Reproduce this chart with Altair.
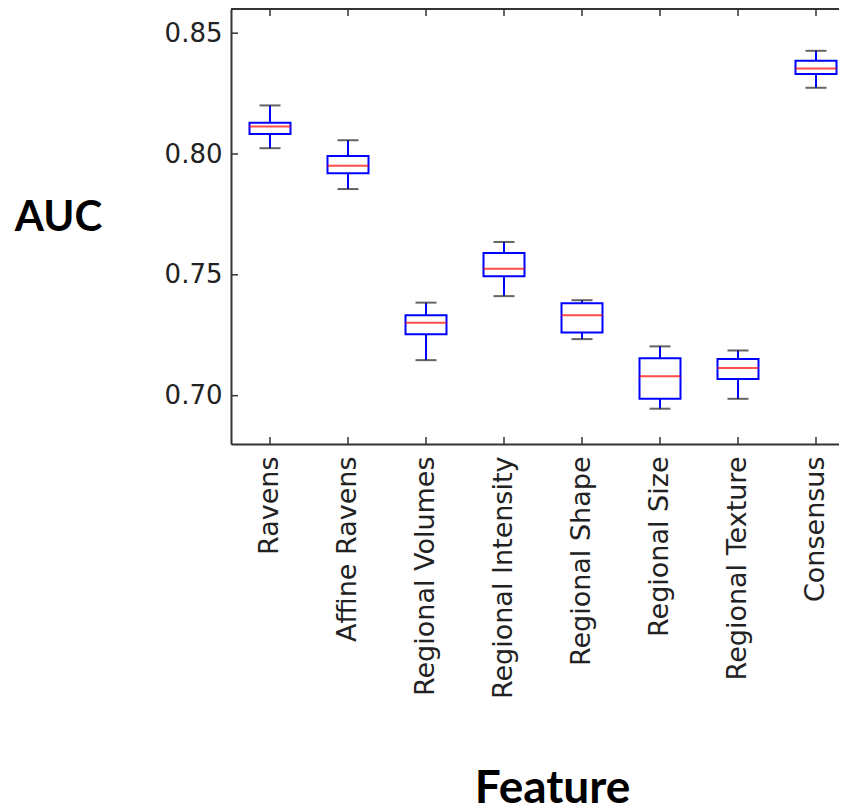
import altair as alt
import pandas as pd

features = ["Ravens", "Affine Ravens", "Regional Volumes", "Regional Intensity",
            "Regional Shape", "Regional Size", "Regional Texture", "Consensus"]
lower = [0.8024, 0.7855, 0.7147, 0.7412, 0.7234, 0.6946, 0.6987, 0.8274]
q1 = [0.8083, 0.7920, 0.7254, 0.7494, 0.7261, 0.6987, 0.7069, 0.8331]
median = [0.8114, 0.7951, 0.7302, 0.7525, 0.7333, 0.7080, 0.7114, 0.8354]
q3 = [0.8129, 0.7992, 0.7333, 0.7590, 0.7382, 0.7155, 0.7152, 0.8386]
upper = [0.8201, 0.8057, 0.7385, 0.7636, 0.7395, 0.7204, 0.7187, 0.8427]
y_ticks = [0.70, 0.75, 0.80, 0.85]

df = pd.DataFrame(dict(feature=features, lower=lower, q1=q1, median=median, q3=q3, upper=upper))
tick_df = pd.DataFrame(dict(v=y_ticks))

W, H = 608, 435
FULL_W = 624  # the original axes run past the right edge of the picture
BLUE = "#0000ff"
RED = "#ff0000"
SPINE = "#333333"

xscale = alt.Scale(domain=features, range=[0, FULL_W], paddingInner=0, paddingOuter=0)
yscale = alt.Scale(domain=[0.68, 0.86], nice=False, zero=False)

x_axis = alt.Axis(
    title="Feature", labelAngle=270, labelPadding=12, ticks=False, labelLimit=0,
    domain=True, domainColor=SPINE, domainWidth=2,
    labelFont="DejaVu Sans", labelFontSize=27, labelColor="#222222",
    titleFont="Lato", titleFontWeight="bold", titleFontSize=46, titleColor="#000000",
    titleX=321, titleY=358, titleAlign="center", titleBaseline="alphabetic", titleAngle=0,
)
y_axis = alt.Axis(
    title="AUC", values=y_ticks, format=".2f", labelPadding=9, ticks=False,
    domain=True, domainColor=SPINE, domainWidth=2, grid=False,
    labelFont="DejaVu Sans", labelFontSize=26, labelColor="#222222",
    titleFont="Lato", titleFontWeight="bold", titleFontSize=42, titleColor="#000000",
    titleAngle=0, titleX=-173, titleY=221, titleAlign="center", titleBaseline="alphabetic",
)

X = alt.X("feature:N", sort=features, scale=xscale, axis=x_axis)


def Y(field):
    return alt.Y(field, scale=yscale, axis=y_axis)


base = alt.Chart(df)

box = base.mark_bar(size=41, fill="white", stroke=BLUE, strokeWidth=2).encode(
    x=X, y=Y("q1:Q"), y2="q3:Q")
wlo = base.mark_rule(color=BLUE, strokeWidth=2).encode(x=X, y=Y("lower:Q"), y2="q1:Q")
whi = base.mark_rule(color=BLUE, strokeWidth=2).encode(x=X, y=Y("q3:Q"), y2="upper:Q")
med = base.mark_tick(color=RED, size=41, thickness=2).encode(x=X, y=Y("median:Q"))
cap_lo = base.mark_tick(color="#222222", size=21, thickness=2).encode(x=X, y=Y("lower:Q"))
cap_hi = base.mark_tick(color="#222222", size=21, thickness=2).encode(x=X, y=Y("upper:Q"))

ytick_marks = alt.Chart(tick_df).mark_rule(color=SPINE, strokeWidth=1.5).encode(
    y=Y("v:Q"), x=alt.value(0), x2=alt.value(7))
xtick_bot = base.mark_rule(color=SPINE, strokeWidth=1.5).encode(
    x=X, y=alt.value(H), y2=alt.value(H - 7))
xtick_top = base.mark_rule(color=SPINE, strokeWidth=1.5).encode(
    x=X, y=alt.value(0), y2=alt.value(7))
top_spine = base.mark_rule(color=SPINE, strokeWidth=2).encode(
    x=alt.value(0), x2=alt.value(FULL_W), y=alt.value(0))

chart = alt.layer(
    box, wlo, whi, med, cap_lo, cap_hi, ytick_marks, xtick_bot, xtick_top, top_spine
).properties(
    width=W, height=H,
    autosize=alt.AutoSizeParams(type="none"),
    padding={"left": 223, "top": 1, "right": 0, "bottom": 367},
).configure_view(stroke=None).configure(background="white")

chart.save("out.html", embed_options={"renderer": "svg", "actions": False})
